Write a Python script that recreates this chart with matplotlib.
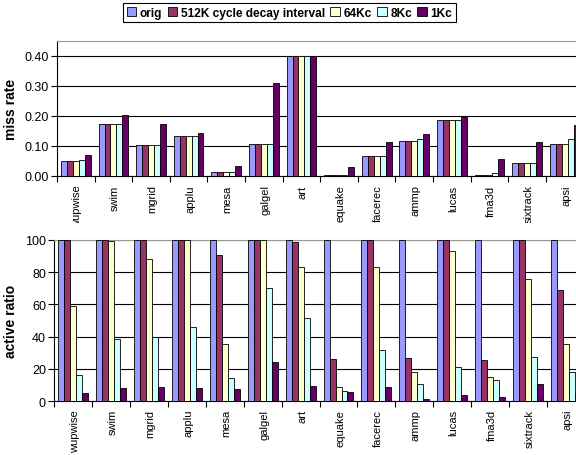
import matplotlib
matplotlib.use('Agg')
import matplotlib.pyplot as plt
import numpy as np
from matplotlib.transforms import Bbox, TransformedBbox

plt.rcParams['font.family'] = ['Liberation Sans', 'DejaVu Sans']

benchmarks = ['wupwise', 'swim', 'mgrid', 'applu', 'mesa', 'galgel', 'art',
              'equake', 'facerec', 'ammp', 'lucas', 'fma3d', 'sixtrack', 'apsi']
series = ['orig', '512K cycle decay interval', '64Kc', '8Kc', '1Kc']
colors = ['#9999FF', '#993366', '#FFFFCC', '#CCFFFF', '#660066']

# miss rate per series (orig, 512K, 64Kc, 8Kc, 1Kc)
miss_orig = [0.049, 0.172, 0.101, 0.134, 0.011, 0.105, 0.401, 0.002, 0.065, 0.115, 0.186, 0.003, 0.041, 0.105]
miss_512k = [0.049, 0.172, 0.101, 0.134, 0.011, 0.105, 0.401, 0.002, 0.065, 0.115, 0.186, 0.003, 0.041, 0.105]
miss_64k = [0.049, 0.172, 0.101, 0.134, 0.011, 0.105, 0.401, 0.002, 0.065, 0.115, 0.186, 0.004, 0.041, 0.105]
miss_8k = [0.052, 0.172, 0.101, 0.134, 0.012, 0.105, 0.401, 0.002, 0.065, 0.122, 0.186, 0.008, 0.043, 0.121]
miss_1k = [0.070, 0.202, 0.172, 0.143, 0.032, 0.311, 0.401, 0.030, 0.111, 0.138, 0.197, 0.056, 0.111, 0.170]

# active ratio per series
act_orig = [100] * 14
act_512k = [100, 100, 100, 100, 90.3, 100, 98.4, 26.4, 100, 27.0, 100, 25.4, 100, 69.0]
act_64k = [59.0, 99.0, 87.8, 99.8, 35.5, 100, 83.0, 8.7, 83.0, 18.1, 93.0, 14.8, 75.9, 35.6]
act_8k = [16.3, 38.8, 39.8, 45.8, 14.2, 69.9, 51.7, 6.4, 31.5, 10.5, 21.0, 13.2, 27.6, 18.4]
act_1k = [5.2, 8.0, 8.9, 8.0, 7.8, 24.5, 9.2, 5.6, 8.7, 1.2, 4.1, 2.9, 11.0, 5.2]

miss = [miss_orig, miss_512k, miss_64k, miss_8k, miss_1k]
act = [act_orig, act_512k, act_64k, act_8k, act_1k]

fig = plt.figure(figsize=(5.76, 4.56), dpi=100)
ax1 = fig.add_axes([0.099, 0.6125, 0.914, 0.2954])
ax2 = fig.add_axes([0.0943, 0.1178, 0.921, 0.3543])

x = np.arange(len(benchmarks))
w = 0.158


def draw(ax, data, ylim, yticks, yfmt, ylabel, lab_x, pad):
    for i, vals in enumerate(data):
        ax.bar(x + (i - 2) * w, vals, w, color=colors[i], edgecolor='black',
               linewidth=0.6, label=series[i], zorder=3)
    ax.set_xlim(-0.5, len(benchmarks) - 0.5)
    ax.set_ylim(*ylim)
    ax.set_yticks(yticks)
    ax.set_yticklabels([yfmt.format(v) for v in yticks], fontsize=9)
    ax.yaxis.grid(True, color='black', linewidth=0.8, zorder=0)
    ax.set_xticks(x + 0.04)
    ax.set_xticklabels(benchmarks, rotation=90, fontsize=8, va='top')
    ax.set_xticks(np.arange(len(benchmarks) + 1) - 0.5, minor=True)
    ax.tick_params(axis='x', which='major', length=0, pad=pad)
    ax.tick_params(axis='x', which='minor', length=4, width=0.8, direction='out')
    ax.tick_params(axis='y', length=4, width=0.8, direction='out', pad=2)
    ax.spines['top'].set_color('#999999')
    ax.spines['right'].set_visible(False)
    ax.spines['left'].set_linewidth(0.8)
    ax.spines['bottom'].set_linewidth(0.8)
    ax.set_ylabel(ylabel, fontsize=10, fontweight='bold')
    ax.yaxis.set_label_coords(lab_x, 0.5)


draw(ax1, miss, (0, 0.45), [0, 0.1, 0.2, 0.3, 0.4], '{:.2f}', 'miss rate', -0.074, 6.3)
draw(ax2, act, (0, 100), [0, 20, 40, 60, 80, 100], '{:.0f}', 'active ratio', -0.068, 5.5)

# top tick labels are cut off by the lower chart, like the original
clip = TransformedBbox(Bbox([[0, 1 - 224 / 456], [1, 0.6125]]), fig.transFigure)
for lab in ax1.get_xticklabels():
    lab.set_clip_box(clip)
    lab.set_clip_on(True)

handles, labels = ax1.get_legend_handles_labels()
leg = fig.legend(handles, labels, loc='center', bbox_to_anchor=(0.5026, 0.970), ncol=5,
                 fancybox=False, edgecolor='black', framealpha=1,
                 prop={'weight': 'bold', 'size': 8.6}, handlelength=0.8, handleheight=0.8,
                 handletextpad=0.3, columnspacing=0.45, borderpad=0.3, borderaxespad=0)
leg.get_frame().set_linewidth(0.8)

fig.savefig('out.png', dpi=100)
